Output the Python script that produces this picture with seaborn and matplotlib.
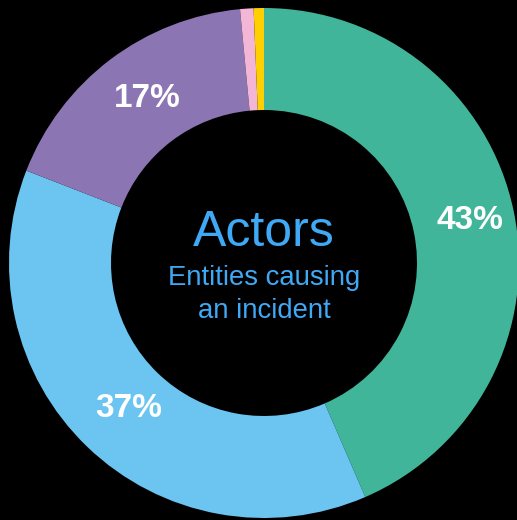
import matplotlib
matplotlib.use("Agg")
import matplotlib.pyplot as plt
import seaborn as sns
import numpy as np

categories = ["Green", "Blue", "Purple", "Pink", "Yellow"]
values = [43.5, 37.4, 17.6, 0.85, 0.65]
colors = ["#41b599", "#6bc5f0", "#8b75b3", "#f3b6d6", "#ffcf00"]
title = "Actors"
subtitle = ["Entities causing", "an incident"]

sns.set_theme(style="white")
plt.rcParams["font.family"] = ["Liberation Sans", "DejaVu Sans"]

fig = plt.figure(figsize=(5.17, 5.2), dpi=100, facecolor="black")
ax = fig.add_axes([0, 0, 1, 1])
ax.set_facecolor("black")

total = sum(values)
wedges, _ = ax.pie(values, colors=colors, startangle=90, counterclock=False,
                   radius=1.0, wedgeprops=dict(width=0.4, linewidth=0))

cum = 0
for v in values:
    mid = (cum + v / 2) / total * 2 * np.pi
    cum += v
    pct = int(v / total * 100)
    if pct < 5:
        continue
    r = 0.8
    ax.text(r * np.sin(mid) + 0.024, r * np.cos(mid) + 0.006, f"{pct}%", color="white",
            fontsize=24, fontweight="bold", ha="center", va="center")

ax.text(0, 0.067, title, color="#3fa9f5", fontsize=36, ha="center", va="baseline")
ax.text(0, -0.086, subtitle[0], color="#3fa9f5", fontsize=19.8, ha="center", va="baseline")
ax.text(0, -0.216, subtitle[1], color="#3fa9f5", fontsize=19.8, ha="center", va="baseline")

ax.set_xlim(-264 / 255, (517 - 264) / 255)
ax.set_ylim(-257 / 255, 263 / 255)
ax.set_aspect("auto")
ax.axis("off")

fig.savefig("out.png", dpi=100, facecolor="black")
